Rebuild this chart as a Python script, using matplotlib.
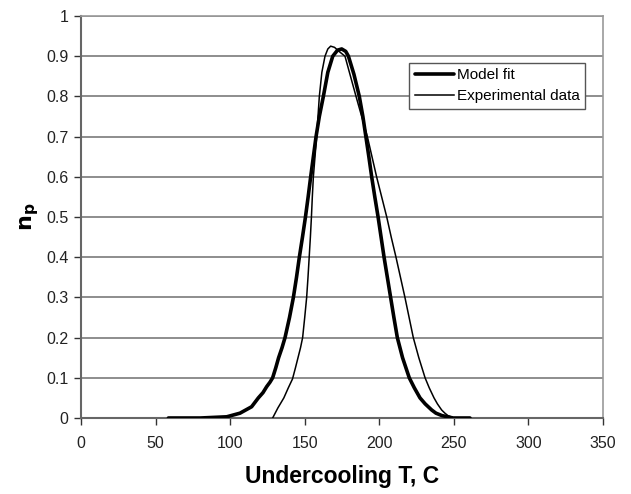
import matplotlib
matplotlib.use("Agg")
import matplotlib.pyplot as plt

plt.rcParams['font.family'] = ['Liberation Sans', 'DejaVu Sans']

model_x = [58.6, 80, 97.7, 106.6, 114.4, 118.9, 122, 124.5, 126.7, 128.5, 130.6, 132.5, 134.8,
           136.8, 139.8, 142.4, 144.5, 146.4, 148.5, 150.5, 152.3, 154, 155.8, 157.6, 159.8,
           162.5, 165.5, 168.8, 172, 174.8, 177.5, 179.3, 183, 186.6, 189, 191, 193, 194.9,
           197, 199.2, 201.2, 203.2, 205.4, 207.6, 209.8, 212.1, 215.6, 220.1, 223.5, 227.3,
           230.8, 235.1, 238, 242, 249.5, 260.8]
model_y = [0, 0, 0.003, 0.012, 0.028, 0.05, 0.063, 0.078, 0.089, 0.1, 0.125, 0.15, 0.175,
           0.2, 0.25, 0.3, 0.35, 0.4, 0.45, 0.5, 0.55, 0.6, 0.65, 0.7, 0.75,
           0.8, 0.86, 0.9, 0.915, 0.918, 0.912, 0.9, 0.855, 0.8, 0.75, 0.7, 0.65, 0.6,
           0.55, 0.5, 0.45, 0.4, 0.35, 0.3, 0.25, 0.2, 0.15, 0.1, 0.075, 0.05,
           0.035, 0.02, 0.012, 0.006, 0, 0]

exp_x = [128.5, 132, 134, 136, 139, 141.8, 143.8, 145.5, 147.2, 148.6, 150, 151.3, 152.2, 153,
         153.8, 154.5, 155.1, 155.8, 156.9, 158, 158.9, 159.8, 161.5, 163.6, 165.5, 167.4,
         170, 173, 177, 180.7, 184.4, 188.2, 192, 195.1, 198.2, 201.6, 205, 208, 211.2,
         214.2, 217.2, 220, 222.8, 226.5, 230.7, 233.5, 236.7, 239, 241.8, 244, 246, 250]
exp_y = [0, 0.025, 0.0375, 0.05, 0.075, 0.097, 0.125, 0.15, 0.175, 0.2, 0.25, 0.3, 0.35, 0.4,
         0.45, 0.5, 0.55, 0.6, 0.65, 0.7, 0.75, 0.8, 0.86, 0.9, 0.918, 0.925,
         0.922, 0.912, 0.9, 0.85, 0.8, 0.75, 0.7, 0.65, 0.6, 0.55, 0.5, 0.45, 0.4,
         0.35, 0.3, 0.25, 0.2, 0.15, 0.1, 0.075, 0.05, 0.035, 0.02, 0.012, 0.006, 0]

x_ticks = [0, 50, 100, 150, 200, 250, 300, 350]
y_ticks = [0, 0.1, 0.2, 0.3, 0.4, 0.5, 0.6, 0.7, 0.8, 0.9, 1]
y_tick_labels = ['0', '0.1', '0.2', '0.3', '0.4', '0.5', '0.6', '0.7', '0.8', '0.9', '1']

fig = plt.figure(figsize=(6.31, 4.94), dpi=100)
ax = fig.add_axes([81/631, 1 - 418/494, (603-81)/631, (418-16)/494])

for y in y_ticks[1:]:
    ax.axhline(y, color='#7a7a7a', lw=1.2, zorder=1)

ax.plot(model_x, model_y, color='black', lw=2.6, label='Model fit', zorder=3,
        solid_joinstyle='round', solid_capstyle='round')
ax.plot(exp_x, exp_y, color='black', lw=1.1, label='Experimental data', zorder=3,
        solid_joinstyle='round')

ax.set_xlim(0, 350)
ax.set_ylim(0, 1)
ax.set_xticks(x_ticks)
ax.set_xticklabels([str(v) for v in x_ticks])
ax.set_yticks(y_ticks)
ax.set_yticklabels(y_tick_labels)
ax.tick_params(axis='both', labelsize=11.5, colors='#333333', labelcolor='#222222', width=1, length=5)
ax.tick_params(axis='x', direction='out', pad=8)
ax.tick_params(axis='y', direction='out', pad=4)

for side in ['left', 'bottom']:
    ax.spines[side].set_color('#666666')
    ax.spines[side].set_linewidth(1.5)
for side in ['top', 'right']:
    ax.spines[side].set_color('#999999')
    ax.spines[side].set_linewidth(1.2)

ax.set_xlabel('Undercooling T, C', fontsize=16.5, fontweight='bold', labelpad=10)
ax.set_ylabel(r'$\mathbf{n_p}$', fontsize=16, labelpad=4)

leg = ax.legend(loc='upper right', bbox_to_anchor=(0.9655, 0.883), fontsize=11,
                frameon=True, fancybox=False, handlelength=2.6, handletextpad=0.15,
                borderpad=0.35, labelspacing=0.45, borderaxespad=0)
leg.get_frame().set_edgecolor('#555555')
leg.get_frame().set_linewidth(1.0)
leg.get_frame().set_alpha(1)

fig.savefig('out.png', dpi=100)
